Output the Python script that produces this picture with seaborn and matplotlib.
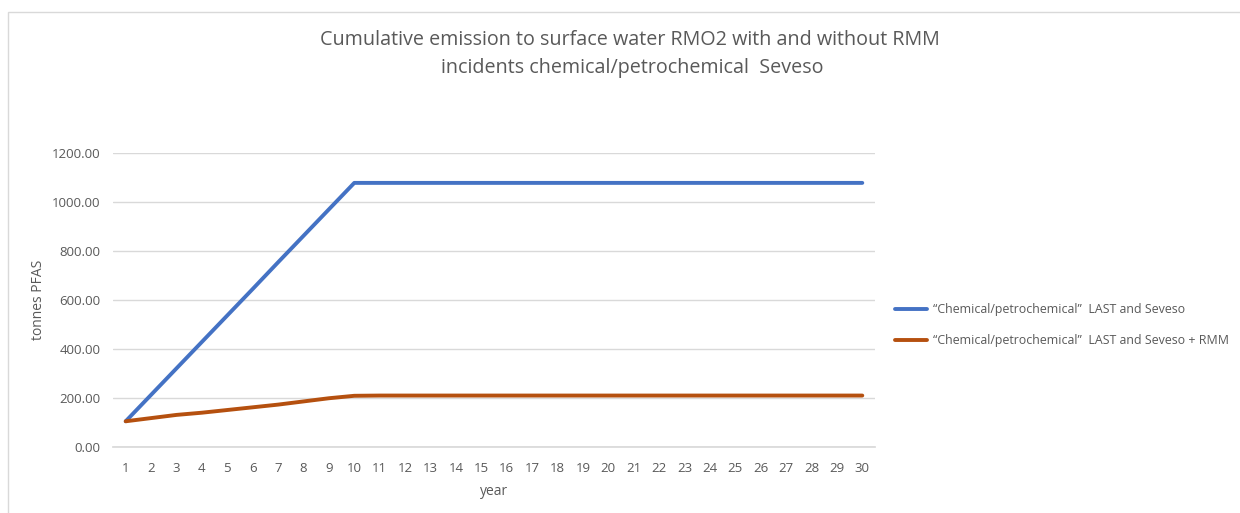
import numpy as np
import pandas as pd
import matplotlib
matplotlib.use("Agg")
import matplotlib.pyplot as plt
import seaborn as sns
from matplotlib.patches import Rectangle

years = list(range(1, 31))
series_names = ['\u201cChemical/petrochemical\u201d  LAST and Seveso',
                '\u201cChemical/petrochemical\u201d  LAST and Seveso + RMM']
last_seveso = [105, 213, 321, 429, 537, 645, 754, 862, 970, 1078] + [1078] * 20
last_seveso_rmm = [105, 118, 131, 140, 151, 162, 173, 186, 199, 209] + [210] * 20
colors = ['#4472C4', '#B5500F']

df = pd.DataFrame({
    'year': years * 2,
    'value': last_seveso + last_seveso_rmm,
    'series': [series_names[0]] * 30 + [series_names[1]] * 30,
})

sns.set_theme(style='white')
plt.rcParams['font.family'] = ['Open Sans', 'DejaVu Sans']

fig = plt.figure(figsize=(12.4, 5.13), dpi=100)
ax = fig.add_axes([113/1240, 1-447/513, (875-113)/1240, (447-153)/513])

sns.lineplot(data=df, x='year', y='value', hue='series', palette=colors,
             linewidth=2.8, ax=ax, legend=True)

ax.set_xlim(0.5, 30.5)
ax.set_ylim(0, 1200)
ax.set_yticks(np.arange(0, 1201, 200))
ax.set_yticklabels([f'{v:.2f}' for v in np.arange(0, 1201, 200)])
ax.set_xticks(years)
ax.set_xticklabels([str(y) for y in years])
ax.grid(axis='y', color='#D9D9D9', linewidth=1)
ax.grid(axis='x', visible=False)
for s in ['top', 'right', 'left']:
    ax.spines[s].set_visible(False)
ax.spines['bottom'].set_color('#D9D9D9')
ax.tick_params(axis='both', colors='#595959', labelsize=9.5, length=0)
ax.tick_params(axis='x', pad=11)
ax.tick_params(axis='y', pad=9)
ax.set_xlabel('year', color='#595959', fontsize=10, labelpad=6)
ax.set_ylabel('tonnes PFAS', color='#595959', fontsize=10, labelpad=4)

leg = ax.legend(loc='center left', bbox_to_anchor=((895-113)/762, 0.415),
                frameon=False, borderaxespad=0, borderpad=0,
                fontsize=8.9, labelcolor='#595959', handlelength=2.6,
                handletextpad=0.5, labelspacing=1.45)

fig.text(0.508, 1-40/513, 'Cumulative emission to surface water RMO2 with and without RMM',
         ha='center', va='center', fontsize=14.2, color='#595959')
fig.text(0.51, 1-68/513, 'incidents chemical/petrochemical  Seveso',
         ha='center', va='center', fontsize=14.2, color='#595959')

fig.patches.append(Rectangle((8/1240, -0.01), 1.5, 1 - 12/513 + 0.01,
                             transform=fig.transFigure, fill=False,
                             edgecolor='#D9D9D9', linewidth=1))

fig.savefig('out.png', dpi=100)
